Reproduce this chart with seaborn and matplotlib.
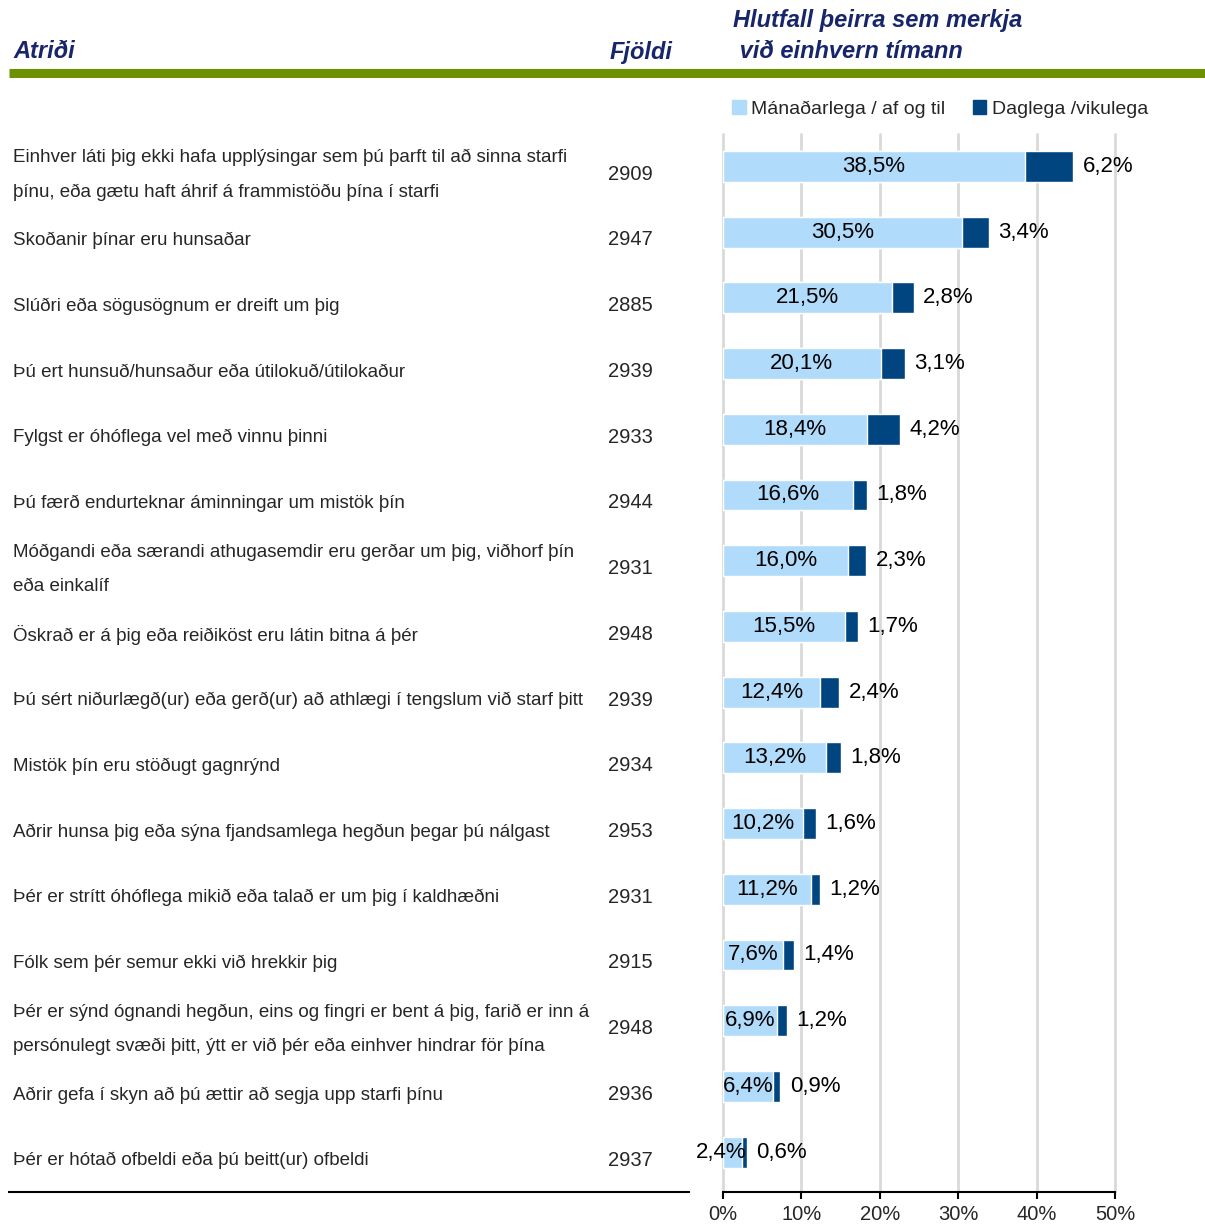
import matplotlib
matplotlib.use("Agg")
import matplotlib.pyplot as plt
import matplotlib.transforms as mtransforms
from matplotlib.lines import Line2D
from matplotlib.patches import Patch
import seaborn as sns
import pandas as pd

# data
labels = [
    "Einhver láti þig ekki hafa upplýsingar sem þú þarft til að sinna starfi\nþínu, eða gætu haft áhrif á frammistöðu þína í starfi",
    "Skoðanir þínar eru hunsaðar",
    "Slúðri eða sögusögnum er dreift um þig",
    "Þú ert hunsuð/hunsaður eða útilokuð/útilokaður",
    "Fylgst er óhóflega vel með vinnu þinni",
    "Þú færð endurteknar áminningar um mistök þín",
    "Móðgandi eða særandi athugasemdir eru gerðar um þig, viðhorf þín\neða einkalíf",
    "Öskrað er á þig eða reiðiköst eru látin bitna á þér",
    "Þú sért niðurlægð(ur) eða gerð(ur) að athlægi í tengslum við starf þitt",
    "Mistök þín eru stöðugt gagnrýnd",
    "Aðrir hunsa þig eða sýna fjandsamlega hegðun þegar þú nálgast",
    "Þér er strítt óhóflega mikið eða talað er um þig í kaldhæðni",
    "Fólk sem þér semur ekki við hrekkir þig",
    "Þér er sýnd ógnandi hegðun, eins og fingri er bent á þig, farið er inn á\npersónulegt svæði þitt, ýtt er við þér eða einhver hindrar för þína",
    "Aðrir gefa í skyn að þú ættir að segja upp starfi þínu",
    "Þér er hótað ofbeldi eða þú beitt(ur) ofbeldi",
]
counts = [2909, 2947, 2885, 2939, 2933, 2944, 2931, 2948, 2939, 2934, 2953, 2931, 2915, 2948, 2936, 2937]
monthly = [38.5, 30.5, 21.5, 20.1, 18.4, 16.6, 16.0, 15.5, 12.4, 13.2, 10.2, 11.2, 7.6, 6.9, 6.4, 2.4]
daily = [6.2, 3.4, 2.8, 3.1, 4.2, 1.8, 2.3, 1.7, 2.4, 1.8, 1.6, 1.2, 1.4, 1.2, 0.9, 0.6]
x_ticks = [0, 10, 20, 30, 40, 50]
legend_names = ["Mánaðarlega / af og til", "Daglega /vikulega"]

df = pd.DataFrame({"label": labels, "monthly": monthly, "daily": daily})
df["total"] = df["monthly"] + df["daily"]

sns.set_style("white")
plt.rcParams["font.family"] = ["Liberation Sans", "DejaVu Sans"]

light = "#b1dbfa"
dark = "#00457f"
navy = "#17256b"
green = "#6e9100"

fig = plt.figure(figsize=(12.05, 12.24), dpi=100)
ax = fig.add_axes([0.6, 0.0265, 0.3253, 0.8644])

sns.barplot(data=df, x="total", y="label", color=dark, width=0.47, saturation=1,
            errorbar=None, ax=ax)
sns.barplot(data=df, x="monthly", y="label", color=light, width=0.47, saturation=1,
            errorbar=None, ax=ax)

ax.set_xlim(0, 50)
ax.set_ylim(15.6, -0.5)
ax.set_xticks(x_ticks)
ax.set_xticklabels([f"{t}%" for t in x_ticks])
ax.set_yticks([])
ax.set_xlabel("")
ax.set_ylabel("")
ax.xaxis.grid(True, color="#d9d9d9", lw=2)
for gl in ax.get_xgridlines():
    gl.set_clip_on(False)
ax.set_axisbelow(True)
for s in ["left", "right", "top"]:
    ax.spines[s].set_visible(False)
ax.spines["bottom"].set_color("black")
ax.spines["bottom"].set_linewidth(1.5)
ax.tick_params(axis="x", direction="out", length=5, width=1.5, color="black",
               labelsize=14.5, pad=5, bottom=True)

fmt = lambda v: f"{v:.1f}%".replace(".", ",")
for i, row in df.iterrows():
    if row["monthly"] < 5:
        # label too wide for the segment: set it flush with the bar end
        ax.text(row["total"], i, fmt(row["monthly"]), ha="right", va="center",
                fontsize=16, color="black")
    else:
        ax.text(row["monthly"] / 2, i, fmt(row["monthly"]), ha="center", va="center",
                fontsize=16, color="black")
    ax.text(row["total"] + 1.2, i, fmt(row["daily"]), ha="left", va="center",
            fontsize=16, color="black")

# row labels and counts to the left of the axes
trans = mtransforms.blended_transform_factory(fig.transFigure, ax.transData)
for i, (lab, n) in enumerate(zip(labels, counts)):
    ax.text(13 / 1205, i + 0.13, lab, transform=trans, ha="left", va="center",
            fontsize=13.5, linespacing=2.3, clip_on=False)
    ax.text(608 / 1205, i + 0.12, str(n), transform=trans, ha="left", va="center",
            fontsize=14.5, clip_on=False)

# header
hdr = dict(fontsize=17, fontweight="bold", fontstyle="italic", color=navy)
fig.text(13 / 1205, 1 - 52 / 1224, "Atriði", ha="left", va="center", **hdr)
fig.text(610 / 1205, 1 - 52 / 1224, "Fjöldi", ha="left", va="center", **hdr)
fig.text(733 / 1205, 1 - 36 / 1224, "Hlutfall þeirra sem merkja\n við einhvern tímann",
         ha="left", va="center", linespacing=1.4, **hdr)
fig.add_artist(Line2D([9 / 1205, 1], [1 - 72.5 / 1224] * 2, color=green, lw=6.5,
                      solid_capstyle="butt"))
fig.add_artist(Line2D([8 / 1205, 690 / 1205], [1 - 1192 / 1224] * 2, color="black", lw=1.5,
                      solid_capstyle="butt"))

handles = [Patch(color=light), Patch(color=dark)]
fig.legend(handles, legend_names, loc="center right", bbox_to_anchor=(1166 / 1205, 1 - 109 / 1224),
           ncol=2, frameon=False, fontsize=14, handlelength=0.7, handleheight=0.7,
           handletextpad=0.3, columnspacing=1.4)

fig.savefig("out.png", dpi=100)
